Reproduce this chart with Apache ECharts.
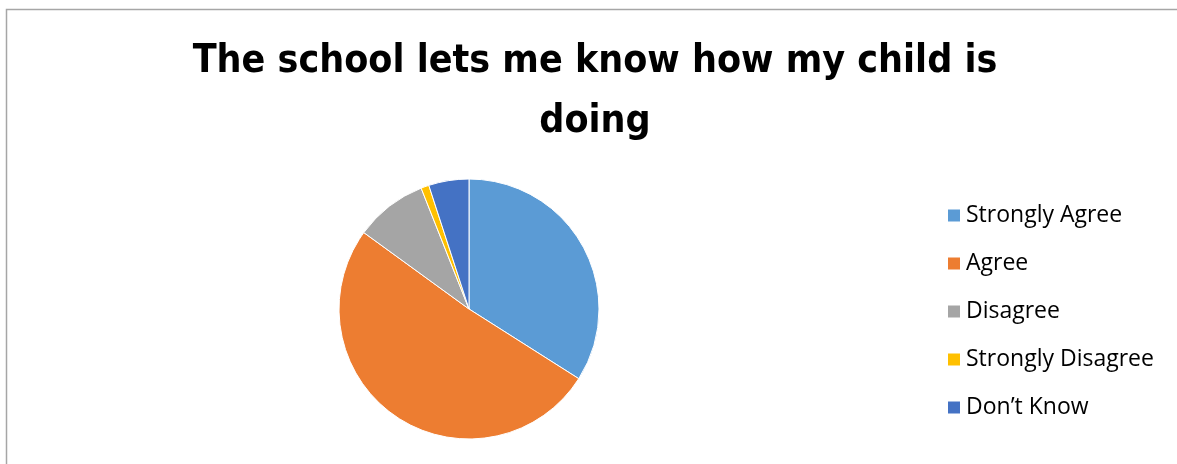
<!DOCTYPE html>
<html>
<head>
<meta charset="utf-8">
<script src="https://cdn.jsdelivr.net/npm/echarts@6/dist/echarts.min.js"></script>
<style>
  html, body { margin: 0; padding: 0; background: #fff; }
  #chart { width: 1177px; height: 464px; }
</style>
</head>
<body>
<div id="chart"></div>
<script>
// Survey responses (percent of parents)
const titleText = 'The school lets me know how my child is\ndoing';
const categories = ['Strongly Agree', 'Agree', 'Disagree', 'Strongly Disagree', 'Don\u2019t Know'];
const values = [34, 51, 9, 1, 5];
const colors = ['#5B9BD5', '#ED7D31', '#A5A5A5', '#FFC000', '#4472C4'];

const chart = echarts.init(document.getElementById('chart'), null, { renderer: 'canvas' });

const pieData = categories.map((name, i) => ({ name: name, value: values[i] }));

chart.setOption({
  animation: false,
  color: colors,
  title: {
    text: titleText,
    left: 595,
    top: 32,
    textAlign: 'center',
    padding: 0,
    textStyle: {
      fontFamily: '"DejaVu Sans Condensed", sans-serif',
      fontWeight: 'bold',
      fontSize: 39,
      lineHeight: 60,
      color: '#000'
    }
  },
  legend: {
    orient: 'vertical',
    left: 941,
    top: 199,
    itemWidth: 14,
    itemHeight: 14,
    itemGap: 25,
    icon: 'rect',
    data: categories,
    textStyle: {
      fontFamily: '"Open Sans", sans-serif',
      fontSize: 23,
      lineHeight: 23,
      color: '#000'
    }
  },
  graphic: [{
    type: 'rect',
    shape: { x: 6.5, y: 9.5, width: 1200, height: 500 },
    style: { fill: 'none', stroke: '#A6A6A6', lineWidth: 1.5 },
    silent: true,
    z: -1
  }],
  series: [{
    type: 'pie',
    center: [469, 309],
    radius: 130,
    startAngle: 90,
    clockwise: true,
    label: { show: false },
    labelLine: { show: false },
    emphasis: { disabled: true },
    itemStyle: { borderColor: '#fff', borderWidth: 1 },
    data: pieData
  }]
});
</script>
</body>
</html>
